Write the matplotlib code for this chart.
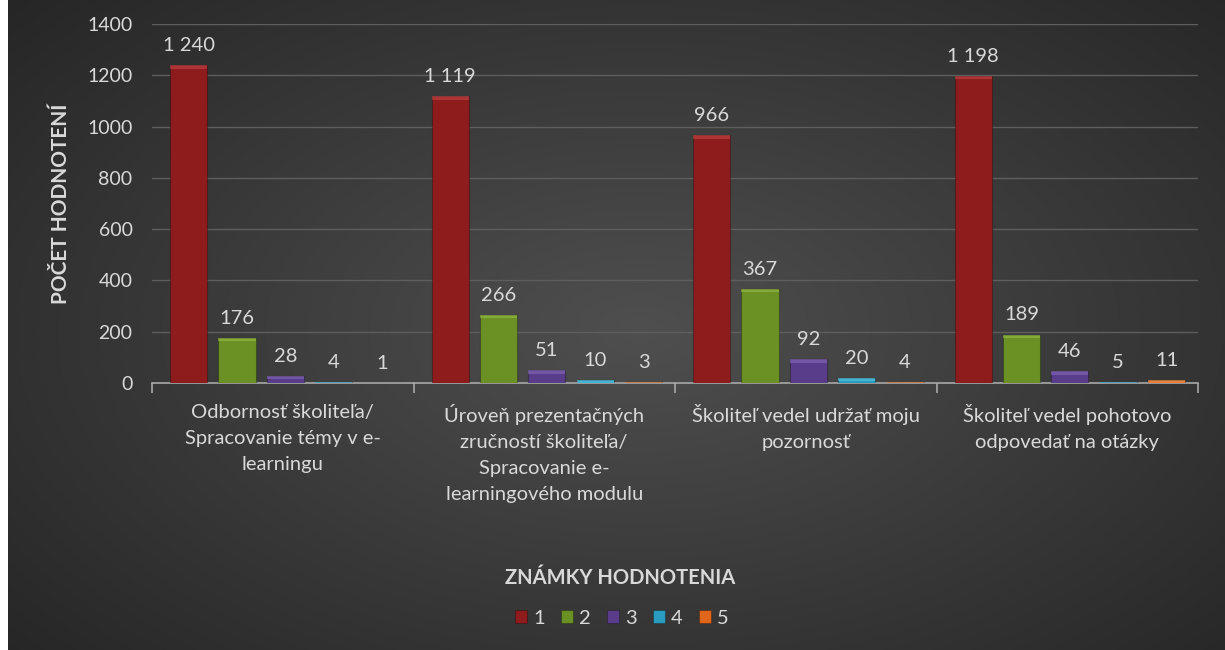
import numpy as np
import matplotlib.pyplot as plt
from matplotlib.patches import Rectangle

plt.rcParams['font.family'] = ['Lato', 'DejaVu Sans']

categories = [
    "Odbornosť školiteľa/\nSpracovanie témy v e-\nlearningu",
    "Úroveň prezentačných\nzručností školiteľa/\nSpracovanie e-\nlearningového modulu",
    "Školiteľ vedel udržať moju\npozornosť",
    "Školiteľ vedel pohotovo\nodpovedať na otázky",
]
grades = ["1", "2", "3", "4", "5"]
counts = [
    [1240, 1119, 966, 1198],   # 1
    [176, 266, 367, 189],      # 2
    [28, 51, 92, 46],          # 3
    [4, 10, 20, 5],            # 4
    [1, 3, 4, 11],             # 5
]
colors = ["#8e1c1c", "#6b9124", "#5a3d8a", "#2a9cc0", "#e0661c"]
tops = ["#c84a4a", "#9cc44a", "#8a6cbf", "#5ccbe8", "#f59a5a"]
txt = "#d9d9d9"

fig = plt.figure(figsize=(12.25, 6.5), dpi=100)

# background: white strip on the left + dark radial gradient
bg = fig.add_axes([0, 0, 1, 1], zorder=-10)
bg.set_axis_off()
yy, xx = np.mgrid[0:650, 0:1225]
r = np.sqrt(((xx - 640) / 900.0) ** 2 + ((yy - 330) / 520.0) ** 2)
shade = np.clip(0.31 - 0.17 * r, 0.11, 0.31)
img = np.dstack([shade, shade, shade])
img[:, :8, :] = 1.0
bg.imshow(img, extent=[0, 1, 0, 1], aspect='auto', origin='upper')
bg.set_xlim(0, 1)
bg.set_ylim(0, 1)

ax = fig.add_axes([152 / 1225, 1 - 383 / 650, (1198 - 152) / 1225, (383 - 24) / 650])
ax.patch.set_alpha(0)

x = np.arange(len(categories))
step = 0.185
width = 0.142
for i, (g, vals) in enumerate(zip(grades, counts)):
    pos = x + (i - 2) * step + 0.01
    ax.bar(pos, vals, width=width, color=colors[i], edgecolor="#00000040",
           linewidth=0.8, label=g, zorder=3)
    # light bevel on top
    for p, v in zip(pos, vals):
        h = min(v, 14)
        ax.add_patch(Rectangle((p - width / 2, v - h), width, h,
                               color=tops[i], alpha=0.55, zorder=4, lw=0))
        ax.annotate(f"{v:,}".replace(",", " "), (p, v), xytext=(0, 8),
                    textcoords="offset points", ha="center", va="bottom",
                    color=txt, fontsize=14.5)

ax.set_xlim(-0.5, 3.5)
ax.set_ylim(0, 1400)
ax.set_yticks(range(0, 1401, 200))
ax.yaxis.grid(True, color="#5e5e5e", linewidth=1, zorder=0)
ax.set_axisbelow(True)
for s in ["top", "right", "left"]:
    ax.spines[s].set_visible(False)
ax.spines["bottom"].set_color("#a8a8a8")
ax.spines["bottom"].set_linewidth(1.2)
ax.tick_params(axis="y", length=0, colors=txt, labelsize=14, pad=14)
ax.set_xticks(x)
ax.set_xticklabels(categories, color=txt, fontsize=14.5, linespacing=1.65, va="top")
ax.tick_params(axis="x", which="major", length=0, pad=15)
ax.set_xticks(np.arange(-0.5, 4.0, 1.0), minor=True)
ax.tick_params(axis="x", which="minor", length=7, color="#a8a8a8", width=1.2)

ax.set_ylabel("POČET HODNOTENÍ", color=txt, fontsize=15, fontweight="bold", labelpad=12)

fig.text(620 / 1225, 1 - 578 / 650, "ZNÁMKY HODNOTENIA", color=txt, fontsize=14.5,
         fontweight="bold", ha="center", va="center")
leg = fig.legend(loc="center", bbox_to_anchor=(622 / 1225, 1 - 618 / 650), ncol=5,
                 frameon=False, fontsize=14.5, handlelength=0.6, handleheight=0.6,
                 handletextpad=0.3, columnspacing=0.8)
for t in leg.get_texts():
    t.set_color(txt)

fig.savefig("out.png", dpi=100)
